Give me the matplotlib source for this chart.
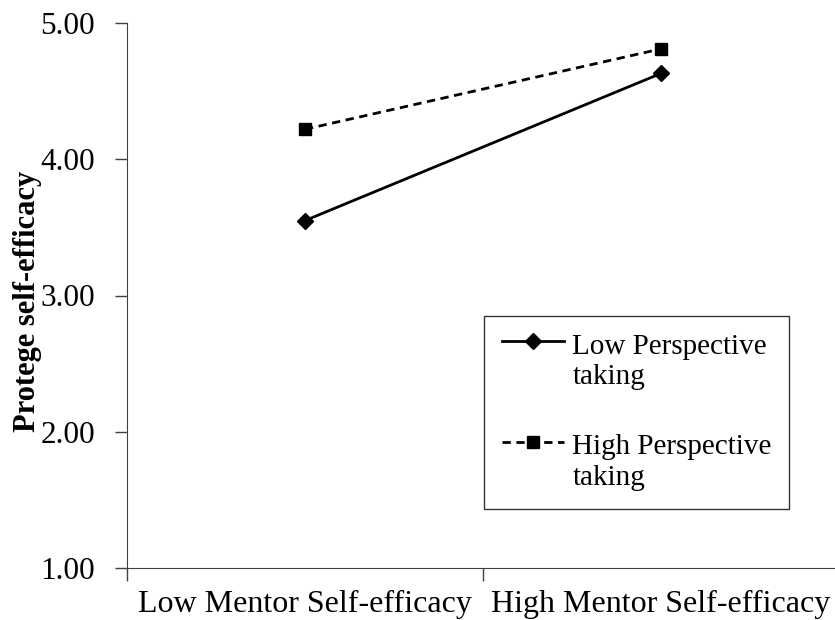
import numpy as np
import matplotlib.pyplot as plt
from matplotlib.lines import Line2D
from matplotlib.legend_handler import HandlerLine2D
from matplotlib.ticker import FixedLocator

plt.rcParams['font.family'] = ['Liberation Serif', 'DejaVu Serif']

# data
categories = ['Low Mentor Self-efficacy', 'High Mentor Self-efficacy']
low_pt = [3.55, 4.63]
high_pt = [4.22, 4.81]
series_names = ['Low Perspective\ntaking', 'High Perspective\ntaking']
yticks = [1.0, 2.0, 3.0, 4.0, 5.0]


# put the legend handle next to the first line of a two-line label
class FirstLineHandler(HandlerLine2D):
    def create_artists(self, legend, orig_handle, xdescent, ydescent,
                       width, height, fontsize, trans):
        arts = super().create_artists(legend, orig_handle, xdescent, ydescent,
                                      width, height, fontsize, trans)
        for a in arts:
            a.set_ydata(np.asarray(a.get_ydata()) + 0.7 * fontsize)
        return arts


fig = plt.figure(figsize=(8.35, 6.2), dpi=100)
ax = fig.add_axes([127 / 835, 1 - 568 / 620, 708 / 835, (568 - 23) / 620])

x = list(range(len(categories)))
ax.plot(x, low_pt, color='black', lw=2, marker='D', markersize=8,
        label=series_names[0])
ax.plot(x, high_pt, color='black', lw=2, ls=(0, (3, 2)), marker='s',
        markersize=9, label=series_names[1])

ax.set_xlim(-0.5, -0.5 + 708 / 356)
ax.set_ylim(1, 5)
ax.set_yticks(yticks)
ax.set_yticklabels([f'{v:.2f}' for v in yticks])
ax.set_xticks(x)
ax.set_xticklabels(categories)
ax.xaxis.set_minor_locator(FixedLocator([-0.5, 0.5, 1.5]))
ax.tick_params(axis='x', which='major', length=0, pad=16, labelsize=23)
ax.tick_params(axis='x', which='minor', length=9, width=1, color='#404040')
ax.tick_params(axis='y', length=9, width=1, color='#404040', pad=14, labelsize=22.5)

for s in ['top', 'right']:
    ax.spines[s].set_visible(False)
ax.spines['left'].set_color('#404040')
ax.spines['bottom'].set_color('#404040')

ax.set_ylabel('Protege self-efficacy', fontsize=22, fontweight='bold')
ax.yaxis.set_label_coords(-85 / 708, 0.49)

leg = ax.legend(loc='upper left', bbox_to_anchor=(357 / 708, (568 - 316) / 545),
                borderaxespad=0, fontsize=21, frameon=True, fancybox=False,
                edgecolor='black', handlelength=2.15, handletextpad=0.28,
                labelspacing=1.5, borderpad=0.6,
                handler_map={Line2D: FirstLineHandler()})
leg.get_frame().set_linewidth(1)
for t in leg.get_texts():
    t.set_linespacing(1.25)

fig.savefig('out.png', dpi=100)
